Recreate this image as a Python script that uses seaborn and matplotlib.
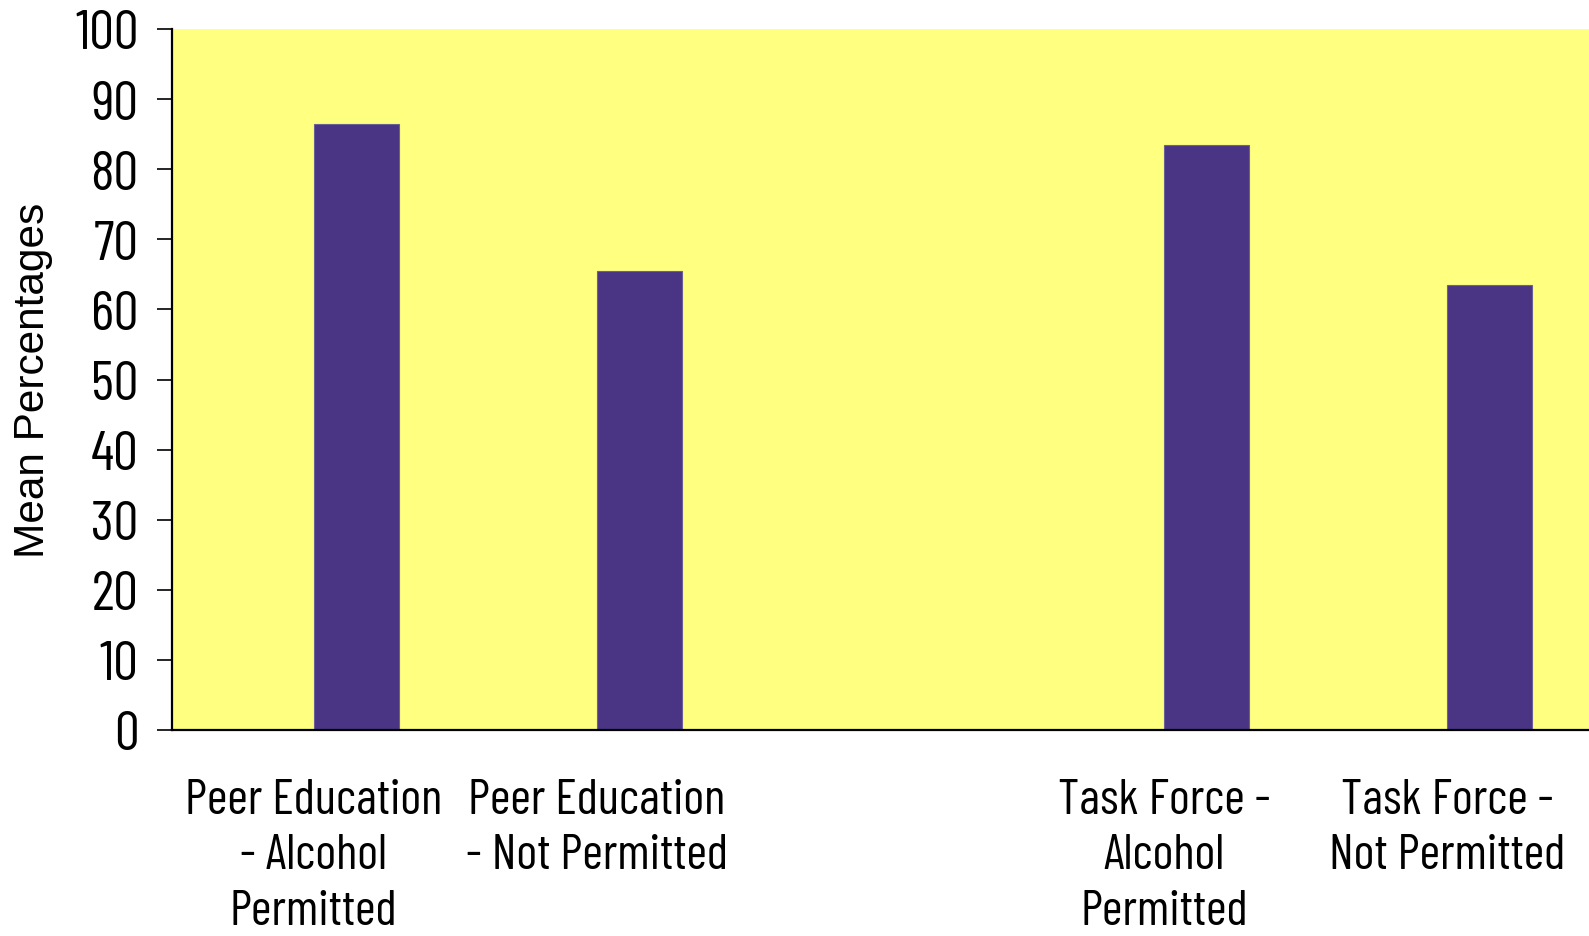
import pandas as pd
import matplotlib
matplotlib.use("Agg")
import matplotlib.pyplot as plt
import seaborn as sns
from matplotlib import font_manager

# chart data
categories = ["Peer Education\n- Alcohol\nPermitted",
              "Peer Education\n- Not Permitted",
              "Task Force -\nAlcohol\nPermitted",
              "Task Force -\nNot Permitted"]
values = [86.4, 65.5, 83.4, 63.5]
order = [categories[0], categories[1], "", categories[2], categories[3]]
yticks = [0, 10, 20, 30, 40, 50, 60, 70, 80, 90, 100]

BAR = "#4a3484"
BG = "#ffff80"


def pick_font(names):
    have = {f.name for f in font_manager.fontManager.ttflist}
    for n in names:
        if n in have:
            return n
    return "DejaVu Sans"


def main():
    sns.set_style("white")
    narrow = pick_font(["Barlow Condensed", "Roboto Condensed", "PT Sans Narrow", "Liberation Sans"])
    plain = pick_font(["Liberation Sans", "Arial"])
    plt.rcParams["font.family"] = [narrow, "DejaVu Sans"]
    plt.rcParams["text.color"] = "black"
    plt.rcParams["axes.labelcolor"] = "black"
    plt.rcParams["xtick.color"] = "black"
    plt.rcParams["ytick.color"] = "black"

    df = pd.DataFrame({"group": categories, "value": values, "series": "shown"})

    fig = plt.figure(figsize=(15.89, 9.37), dpi=100)
    ax = fig.add_axes([172 / 1589, 1 - 731 / 937, 1 - 172 / 1589, (731 - 30) / 937])
    ax.set_facecolor(BG)

    # an empty first hue level pushes the bars to the right half of each slot
    sns.barplot(data=df, x="group", y="value", hue="series", order=order,
                hue_order=["blank", "shown"], palette={"blank": BAR, "shown": BAR},
                width=0.6, dodge=True, legend=False, ax=ax,
                edgecolor="#6b5f99", linewidth=0.8, saturation=1)

    ax.set_xlim(-0.5, 4.5)
    ax.set_ylim(0, 100)
    ax.set_yticks(yticks)
    ax.set_yticklabels([str(t) for t in yticks], fontsize=40)
    ax.tick_params(axis="y", left=True, length=11, width=1.2, pad=13, colors="black")
    ax.tick_params(axis="x", bottom=False, pad=31, colors="black")
    for lab in ax.get_xticklabels():
        lab.set_fontsize(36)
        lab.set_linespacing(1.3)

    ax.set_xlabel("")
    ax.set_ylabel("Mean Percentages", fontsize=30.5, family=[plain, "DejaVu Sans"], labelpad=16)

    for s in ["top", "right"]:
        ax.spines[s].set_visible(False)
    for s in ["left", "bottom"]:
        ax.spines[s].set_color("black")
        ax.spines[s].set_linewidth(1.6)

    fig.savefig("out.png", dpi=100)


if __name__ == "__main__":
    main()
